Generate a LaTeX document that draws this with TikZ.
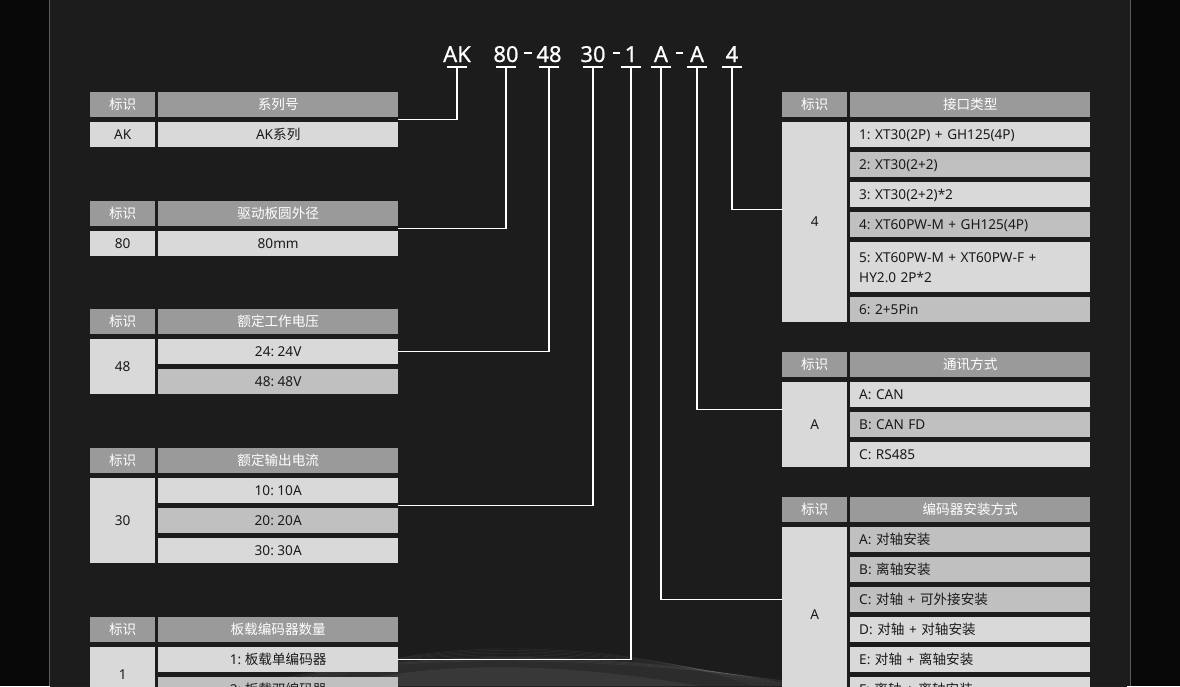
\documentclass[tikz,border=0pt]{standalone}
\usepackage{fontspec}
\setmainfont{Noto Sans}
\newfontfamily\zh{Noto Sans CJK SC}
\newfontfamily\codefont[FakeBold=0.6]{Noto Sans}
\usetikzlibrary{calc,fadings}
\frenchspacing
\definecolor{bgout}{HTML}{080808}
\definecolor{bgin}{HTML}{1C1C1C}
\definecolor{framegray}{HTML}{5A5A5A}
\definecolor{hdrgray}{HTML}{9A9A9A}
\definecolor{lite}{HTML}{D9D9D9}
\definecolor{darkrow}{HTML}{C0C0C0}
\definecolor{ink}{HTML}{1A1A1A}
\begin{document}
\frenchspacing
\begin{tikzpicture}[x=1pt,y=-1pt,
  box/.style={anchor=north west, inner sep=0pt, minimum height=25pt, text height=11pt, text depth=2pt,
              font=\fontsize{13.6}{16}\selectfont, text=ink, align=center},
  idhdr/.style={box, fill=hdrgray, text=white, minimum width=65pt},
  tihdr/.style={box, fill=hdrgray, text=white, minimum width=240pt},
  idcell/.style={box, fill=lite, minimum width=65pt},
  ccell/.style={box, minimum width=240pt},
  lcell/.style={box, text width=222pt, inner xsep=9pt, align=left},
  code/.style={anchor=base, inner sep=0pt, text=white, font=\codefont\fontsize{22}{24}\selectfont},
  conn/.style={white, line width=1.2pt},
  dashmark/.style={white, line width=1.1pt}
]
\useasboundingbox (0,0) rectangle (1180,686);
% background
\fill[bgout] (0,0) rectangle (1180,686);
\fill[bgin] (50,0) rectangle (1130,686);
\begin{scope}
  \clip (50,0) rectangle (1130,686);
  \foreach \a in {6,7.5,...,72} {
    \draw[white, opacity=0.11, line width=0.8pt] (250,950) -- ++(\a:1500);
  }
  \fill[bgin, path fading=north] (50,300) rectangle (1130,690);
  \fill[bgin] (50,0) rectangle (1130,302);
  \fill[white, opacity=0.07] (260,686) .. controls (420,645) and (620,650) .. (800,686) -- cycle;
  \fill[white, opacity=0.06] (330,686) .. controls (440,660) and (560,662) .. (700,686) -- cycle;
  \foreach \k in {0,...,8} {
    \draw[white, opacity=0.06, line width=0.7pt] (240+\k*10,686) .. controls (400,650-\k*2) and (620,655-\k*2) .. (820-\k*8,686);
  }
\end{scope}
\draw[framegray, line width=1.5pt] (49.5,0) -- (49.5,686);
\draw[framegray, line width=1.5pt] (1130.5,0) -- (1130.5,686);

% code line
\node[code] (cAK) at (457,62) {AK};
\node[code] (c80) at (506,62) {80};
\node[code] (c48) at (549,62) {48};
\node[code] (c30) at (593,62) {30};
\node[code] (c1) at (631,62) {1};
\node[code] (cA1) at (661,62) {A};
\node[code] (cA2) at (697,62) {A};
\node[code] (c4) at (732,62) {4};
\draw[dashmark] (524,53) -- (532,53);
\draw[dashmark] (613,53) -- (620,53);
\draw[dashmark] (676,53) -- (683,53);
\coordinate (u1) at (457,67);
\coordinate (u2) at (506,67);
\coordinate (u3) at (549,67);
\coordinate (u4) at (593,67);
\coordinate (u5) at (631,67);
\coordinate (u6) at (661,67);
\coordinate (u7) at (697,67);
\coordinate (u8) at (732,67);
\foreach \u in {u1,u2,u3,u4,u5,u6,u7,u8} {
  \draw[conn] ([xshift=-10pt]\u) -- ([xshift=10pt]\u);
}

% ---- left tables ----
% T1
\node[idhdr] (h1a) at (90,92) {\zh 标识};
\node[tihdr] (h1b) at (158,92) {\zh 系列号};
\node[idcell] (l1) at (90,122) {AK};
\node[ccell, fill=lite] (r1a) at (158,122) {AK{\zh 系列}};
% T2
\node[idhdr] (h2a) at (90,201) {\zh 标识};
\node[tihdr] (h2b) at (158,201) {\zh 驱动板圆外径};
\node[idcell] (l2) at (90,231) {80};
\node[ccell, fill=lite] (r2a) at (158,231) {80mm};
% T3
\node[idhdr] (h3a) at (90,309) {\zh 标识};
\node[tihdr] (h3b) at (158,309) {\zh 额定工作电压};
\node[idcell, minimum height=55pt] (l3) at (90,339) {48};
\node[ccell, fill=lite] (r3a) at (158,339) {24: 24V};
\node[ccell, fill=darkrow] (r3b) at (158,369) {48: 48V};
% T4
\node[idhdr] (h4a) at (90,448) {\zh 标识};
\node[tihdr] (h4b) at (158,448) {\zh 额定输出电流};
\node[idcell, minimum height=85pt] (l4) at (90,478) {30};
\node[ccell, fill=lite] (r4a) at (158,478) {10: 10A};
\node[ccell, fill=darkrow] (r4b) at (158,508) {20: 20A};
\node[ccell, fill=lite] (r4c) at (158,538) {30: 30A};
% T5
\node[idhdr] (h5a) at (90,617) {\zh 标识};
\node[tihdr] (h5b) at (158,617) {\zh 板载编码器数量};
\node[idcell, minimum height=55pt] (l5) at (90,647) {1};
\node[ccell, fill=lite] (r5a) at (158,647) {1: {\zh 板载单编码器}};
\node[ccell, fill=darkrow] (r5b) at (158,677) {2: {\zh 板载双编码器}};

% ---- right tables ----
% T6
\node[idhdr] (h6a) at (782,92) {\zh 标识};
\node[tihdr] (h6b) at (850,92) {\zh 接口类型};
\node[idcell, minimum height=200pt] (l6) at (782,122) {4};
\node[lcell, fill=lite] (r6a) at (850,122) {1: XT30(2P) + GH125(4P)};
\node[lcell, fill=darkrow] (r6b) at (850,152) {2: XT30(2+2)};
\node[lcell, fill=lite] (r6c) at (850,182) {3: XT30(2+2)*2};
\node[lcell, fill=darkrow] (r6d) at (850,212) {4: XT60PW-M + GH125(4P)};
\node[lcell, fill=lite, minimum height=50pt, font=\fontsize{13.6}{20}\selectfont, text height=, text depth=] (r6e) at (850,242) {5: XT60PW-M + XT60PW-F +\\HY2.0 2P*2};
\node[lcell, fill=darkrow] (r6f) at (850,297) {6: 2+5Pin};
% T7
\node[idhdr] (h7a) at (782,352) {\zh 标识};
\node[tihdr] (h7b) at (850,352) {\zh 通讯方式};
\node[idcell, minimum height=85pt] (l7) at (782,382) {A};
\node[lcell, fill=lite] (r7a) at (850,382) {A: CAN};
\node[lcell, fill=darkrow] (r7b) at (850,412) {B: CAN FD};
\node[lcell, fill=lite] (r7c) at (850,442) {C: RS485};
% T8
\node[idhdr] (h8a) at (782,497) {\zh 标识};
\node[tihdr] (h8b) at (850,497) {\zh 编码器安装方式};
\node[idcell, minimum height=175pt] (l8) at (782,527) {A};
\node[lcell, fill=darkrow] (r8a) at (850,527) {A: {\zh 对轴安装}};
\node[lcell, fill=darkrow] (r8b) at (850,557) {B: {\zh 离轴安装}};
\node[lcell, fill=darkrow] (r8c) at (850,587) {C: {\zh 对轴} + {\zh 可外接安装}};
\node[lcell, fill=lite] (r8d) at (850,617) {D: {\zh 对轴} + {\zh 对轴安装}};
\node[lcell, fill=lite] (r8e) at (850,647) {E: {\zh 对轴} + {\zh 离轴安装}};
\node[lcell, fill=lite] (r8f) at (850,677) {F: {\zh 离轴} + {\zh 离轴安装}};

% ---- connectors ----
\coordinate (g1) at ($(h1b.south east)!0.5!(r1a.north east)$);
\coordinate (g2) at ($(h2b.south east)!0.5!(r2a.north east)$);
\coordinate (g4) at ($(r4a.south east)!0.5!(r4b.north east)$);
\coordinate (g6) at ($(r6c.south west)!0.5!(r6d.north west)$);
\coordinate (g7) at ($(r7a.south west)!0.5!(r7b.north west)$);
\draw[conn] (u1) |- (g1);
\draw[conn] (u2) |- (g2);
\draw[conn] (u3) |- (r3a.east);
\draw[conn] (u4) |- (g4);
\draw[conn] (u5) |- (r5a.east);
\draw[conn] (u6) |- (r8c.west -| l8.west);
\draw[conn] (u7) |- (g7 -| l7.west);
\draw[conn] (u8) |- (g6 -| l6.west);
\end{tikzpicture}
\end{document}
